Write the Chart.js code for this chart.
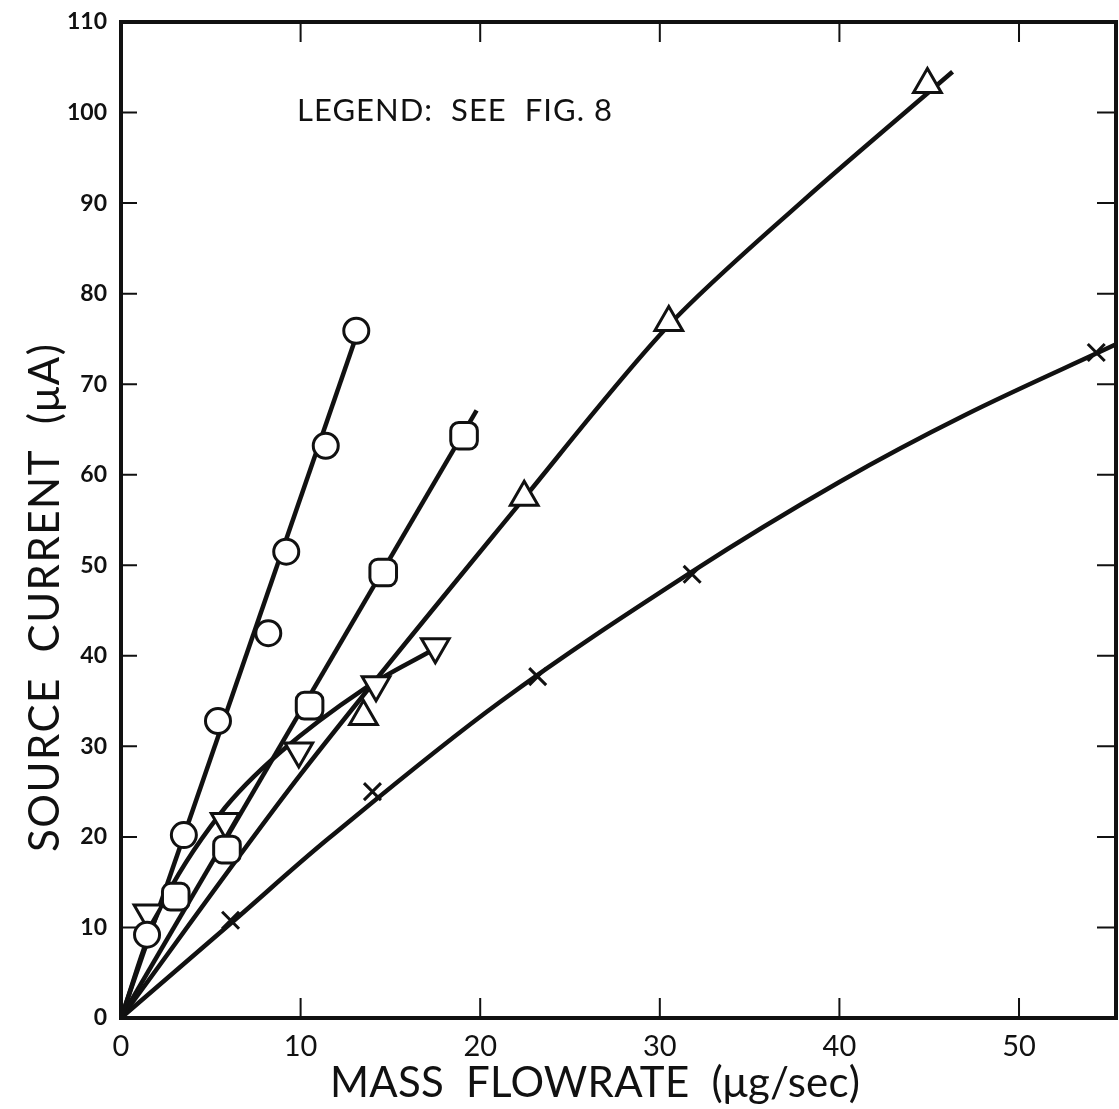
<!DOCTYPE html>
<html>
<head>
<meta charset="utf-8">
<script src="https://cdn.jsdelivr.net/npm/chart.js@4.4.1/dist/chart.umd.min.js"></script>
<style>
  html, body { margin: 0; padding: 0; background: #fff; overflow: hidden; }
  canvas { display: block; }
</style>
</head>
<body>
<canvas id="grafico" width="1119" height="1109"></canvas>
<script>
// datos (corriente de la fuente frente al caudal masico)
const circleX = [1.45, 3.5, 5.4, 8.2, 9.2, 11.4, 13.1];
const circleY = [9.2, 20.2, 32.8, 42.5, 51.5, 63.2, 75.9];
const squareX = [3.05, 5.9, 10.5, 14.6, 19.1];
const squareY = [13.4, 18.6, 34.5, 49.2, 64.3];
const triUpX = [13.5, 22.45, 30.5, 44.9];
const triUpY = [33.3, 57.5, 76.8, 103.1];
const triDownX = [1.5, 5.8, 9.9, 14.2, 17.5];
const triDownY = [11.6, 21.7, 29.5, 36.8, 41.0];
const crossX = [6.1, 14.0, 23.2, 31.8, 54.3];
const crossY = [10.8, 25.0, 37.7, 49.0, 73.5];

// curvas de ajuste dibujadas a mano en el original
const circleFitX = [0, 13.1];
const circleFitY = [0, 75.3];
const squareFitX = [0, 19.8];
const squareFitY = [0, 67.1];
const triUpFitX = [0, 10, 22.4, 30.5, 38, 46.3];
const triUpFitY = [0, 26.9, 57.3, 76.5, 90.3, 104.5];
const triDownFitX = [0, 2.2, 5.5, 8.9, 13.5, 17.4];
const triDownFitY = [0, 12.2, 22.5, 29.4, 36.3, 40.7];
const crossFitX = [0, 6.2, 11.6, 21.1, 31.8, 40, 47, 55.4];
const crossFitY = [0, 10.6, 19.9, 34.9, 49.3, 59.2, 66.6, 74.4];

const xTicks = [0, 10, 20, 30, 40, 50];
const yTicks = [0, 10, 20, 30, 40, 50, 60, 70, 80, 90, 100, 110];

const xTitle = 'MASS  FLOWRATE  (\u03bcg/sec)';
const yTitle = 'SOURCE  CURRENT  (\u03bcA)';
const nota = 'LEGEND:  SEE  FIG. 8';

const ink = '#111';

function pares(xs, ys) {
    return xs.map((x, i) => ({ x: x, y: ys[i] }));
}

function curva(xs, ys, tension) {
    return {
        type: 'line',
        data: pares(xs, ys),
        borderColor: ink,
        borderWidth: 4.5,
        pointRadius: 0,
        fill: false,
        tension: tension,
        cubicInterpolationMode: 'default',
        order: 2
    };
}

function marcas(xs, ys, estilo, radio, giro) {
    return {
        type: 'scatter',
        data: pares(xs, ys),
        pointStyle: estilo,
        pointRadius: radio,
        pointRotation: giro || 0,
        pointBackgroundColor: '#fff',
        pointBorderColor: ink,
        pointBorderWidth: 3,
        clip: false,
        order: 1
    };
}

// escribe un texto ajustando el espaciado para que ocupe el ancho dado
function textoAncho(ctx, txt, ancho) {
    ctx.letterSpacing = '0px';
    const w = ctx.measureText(txt).width;
    const extra = (ancho - w) / (txt.length - 1);
    ctx.letterSpacing = extra.toFixed(2) + 'px';
    ctx.fillText(txt, 0, 0);
}

// marco con marcas hacia dentro en los cuatro lados + titulos y nota
const marcoPlugin = {
    id: 'marco',
    afterLayout(chart) {
        // el area de dibujo ocupa hasta el borde derecho como en el original
        const a = chart.chartArea;
        a.right = chart.width - 3;
        a.width = a.right - a.left;
        const sx = chart.scales.x;
        sx.right = a.right;
        sx.width = a.right - sx.left;
        sx.configure();
    },
    afterDraw(chart) {
        const { ctx, chartArea: a, scales } = chart;
        const sx = scales.x, sy = scales.y;
        ctx.save();
        ctx.strokeStyle = ink;
        ctx.lineWidth = 4;
        ctx.strokeRect(a.left, a.top, a.right - a.left, a.bottom - a.top);
        ctx.lineWidth = 2;
        ctx.beginPath();
        xTicks.forEach(v => {
            if (v === 0) return;
            const px = sx.getPixelForValue(v);
            ctx.moveTo(px, a.bottom); ctx.lineTo(px, a.bottom - 20);
            ctx.moveTo(px, a.top); ctx.lineTo(px, a.top + 20);
        });
        yTicks.forEach(v => {
            if (v === 0 || v === 110) return;
            const py = sy.getPixelForValue(v);
            ctx.moveTo(a.left, py); ctx.lineTo(a.left + 16, py);
            ctx.moveTo(a.right, py); ctx.lineTo(a.right - 19, py);
        });
        ctx.stroke();

        ctx.fillStyle = ink;
        ctx.textBaseline = 'middle';
        ctx.textAlign = 'left';

        // nota de leyenda
        ctx.save();
        ctx.font = '31px Lato';
        ctx.translate(sx.getPixelForValue(9.8), sy.getPixelForValue(100.2));
        textoAncho(ctx, nota, 315);
        ctx.restore();

        // titulo eje x
        ctx.save();
        ctx.font = '42px Lato';
        ctx.translate(330, 1083);
        textoAncho(ctx, xTitle, 530);
        ctx.restore();

        // titulo eje y
        ctx.save();
        ctx.font = '42px Lato';
        ctx.translate(45, 852);
        ctx.rotate(-Math.PI / 2);
        textoAncho(ctx, yTitle, 508);
        ctx.restore();

        ctx.restore();
    }
};

document.addEventListener('DOMContentLoaded', function () {
    const ctx = document.getElementById('grafico');
    new Chart(ctx, {
        data: {
            datasets: [
                curva(circleFitX, circleFitY, 0),
                curva(squareFitX, squareFitY, 0),
                curva(triUpFitX, triUpFitY, 0.3),
                curva(triDownFitX, triDownFitY, 0.35),
                curva(crossFitX, crossFitY, 0.35),
                marcas(circleX, circleY, 'circle', 12.5),
                marcas(squareX, squareY, 'rectRounded', 15.5),
                marcas(triUpX, triUpY, 'triangle', 16),
                marcas(triDownX, triDownY, 'triangle', 16, 180),
                Object.assign(marcas(crossX, crossY, 'crossRot', 12), { pointBorderWidth: 3 })
            ]
        },
        options: {
            responsive: false,
            animation: false,
            layout: { padding: { top: 22, right: 3, bottom: 0, left: 0 } },
            plugins: {
                legend: { display: false },
                tooltip: { enabled: false }
            },
            scales: {
                x: {
                    type: 'linear',
                    min: 0,
                    max: 55.4,
                    grid: { display: false },
                    border: { display: false },
                    ticks: {
                        stepSize: 10,
                        includeBounds: false,
                        color: ink,
                        padding: 3,
                        font: { family: 'Lato', size: 29 },
                        callback: v => (v % 10 === 0 ? v : '')
                    },
                    afterFit(scale) {
                        scale.height = 91;
                    }
                },
                y: {
                    type: 'linear',
                    min: 0,
                    max: 110,
                    grid: { display: false },
                    border: { display: false },
                    ticks: {
                        stepSize: 10,
                        color: ink,
                        padding: 6,
                        font: { family: 'Lato', size: 23, weight: 'bold' }
                    },
                    afterFit(scale) {
                        scale.width = 121;
                    }
                }
            }
        },
        plugins: [marcoPlugin]
    });
    console.log('grafica dibujada');
});
</script>
</body>
</html>
